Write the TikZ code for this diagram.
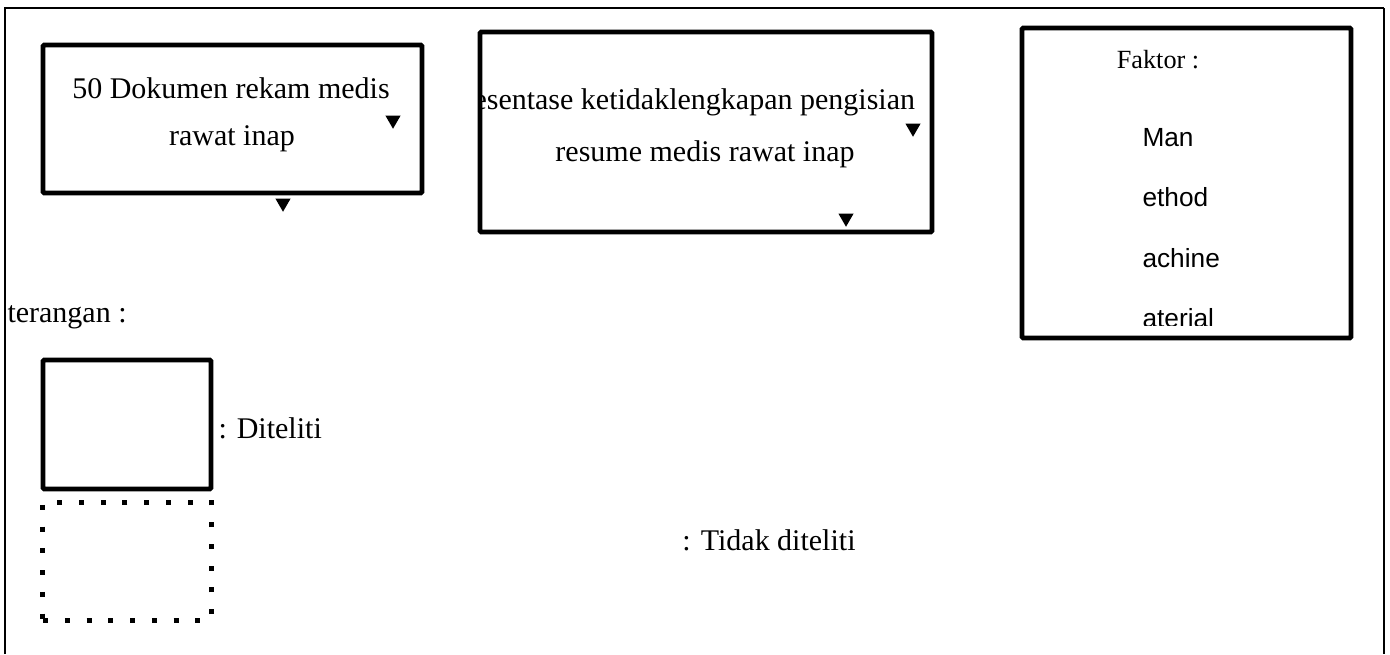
\documentclass[tikz,border=0pt]{standalone}
\usepackage{fontspec}
\setmainfont{Liberation Serif}
\setsansfont{Liberation Sans}
\usetikzlibrary{shapes.geometric}

\begin{document}
\begin{tikzpicture}[
    x=0.4pt, y=-0.4pt,
    box/.style={draw, line width=1.9pt, rounded corners=0.5pt, inner sep=0pt},
    dotbox/.style={draw, line width=2pt, dash pattern=on 2pt off 6.7pt, inner sep=0pt},
    txt/.style={font=\fontsize{12}{14}\selectfont, inner sep=0pt},
    fak/.style={font=\sffamily\fontsize{10.5}{12}\selectfont, inner sep=0pt, anchor=west},
    tri/.style={regular polygon, regular polygon sides=3, shape border rotate=180,
                fill=black, inner sep=0pt, minimum size=7pt}
]
    \useasboundingbox (0,0) rectangle (1390,654);

    % Outer frame (open at the bottom)
    \draw[line width=0.7pt] (5,654) -- (5,8) -- (1384,8);
    \draw[line width=1pt] (1384,8) -- (1384,654);

    % Boxes
    \node[box, minimum width=151.6pt, minimum height=59.2pt] (dok) at (232.5,119) {};
    \node[box, minimum width=180.8pt, minimum height=80pt] (persen) at (706,132) {};
    \node[box, minimum width=131.6pt, minimum height=124pt] (faktor) at (1186.5,183) {};

    % Box texts
    \node[txt] (dok1) at (231,88) {50 Dokumen rekam medis};
    \node[txt] (dok2) at (232,139) {rawat inap};
    \begin{scope}
        \clip (482,34) rectangle (930,230);
        \node[txt, anchor=west] (persen1) at (473,102) {esentase ketidaklengkapan pengisian};
    \end{scope}
    \node[txt] (persen2) at (705,154) {resume medis rawat inap};

    \node[txt, font=\fontsize{10.5}{12}\selectfont] (fak0) at (1158,60) {Faktor :};
    \begin{scope}
        \clip (1024,30) rectangle (1350,325);
        \node[fak] (man) at (1142,138) {Man};
        \node[fak] (method) at (1142,197) {ethod};
        \node[fak] (machine) at (1142,258) {achine};
        \node[fak] (material) at (1142,318) {aterial};
    \end{scope}

    % Triangles
    \node[tri] (t1) at (393,120) {};
    \node[tri] (t2) at (283,203) {};
    \node[tri] (t3) at (913,128) {};
    \node[tri] (t4) at (846,218) {};

    % Legend
    \node[txt, anchor=west] (ket) at (7,317) {terangan :};
    \node[box, minimum width=67.2pt, minimum height=51.6pt] (diteliti) at (127,424.5) {};
    \node[txt, anchor=west] (dtl) at (218,428) {: Diteliti};
    \node[dotbox, minimum width=67.2pt, minimum height=47.2pt] (tidak) at (127,561) {};
    \node[txt] (tdk) at (769,540) {: Tidak diteliti};
\end{tikzpicture}
\end{document}
